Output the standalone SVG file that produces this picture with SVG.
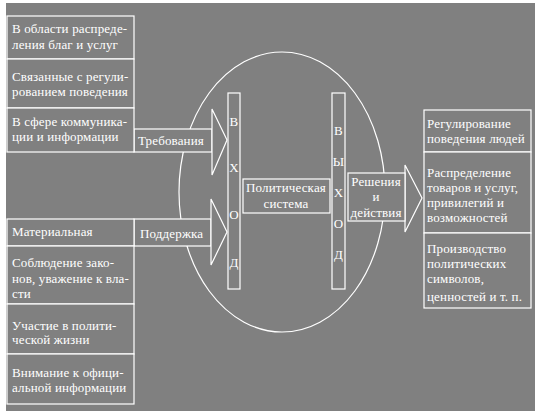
<svg xmlns="http://www.w3.org/2000/svg" width="539" height="417" viewBox="0 0 539 417">
<style>
.b{fill:#808080;stroke:#fff;stroke-width:1.2}
.l{fill:none;stroke:#fff;stroke-width:1.2}
text{font-family:"Liberation Serif","Times New Roman",serif;font-size:13px;letter-spacing:0.15px;fill:#fff}
.c{text-anchor:middle}
</style>
<rect x="0" y="0" width="539" height="417" fill="#fff"/>
<rect x="6" y="3" width="529" height="408" fill="#808080"/>
<ellipse cx="282" cy="192" rx="103" ry="140" class="l"/>
<g id="connectors">
<g id="arrow-trebovaniya">
<rect x="134" y="129" width="78" height="23" class="b"/>
<polygon points="212,109 227,140 212,175" class="b"/>
<text x="138" y="145">Требования</text>
</g>
<g id="arrow-podderzhka">
<rect x="134" y="219" width="77" height="27" class="b"/>
<polygon points="211,199 227,232 211,265" class="b"/>
<text x="140" y="238">Поддержка</text>
</g>
<g id="arrow-resheniya">
<polygon points="405,165 422,198 405,232" class="b"/>
<rect x="348" y="173" width="57" height="48" class="b"/>
<text class="c" x="376" y="186">Решения</text>
<text class="c" x="376" y="201">и</text>
<text class="c" x="376" y="217">действия</text>
</g>
</g>
<g id="demands">
<rect x="7" y="16" width="127" height="43" class="b"/>
<text x="12" y="33">В области распреде-</text>
<text x="12" y="49">ления благ и услуг</text>
<rect x="7" y="59" width="127" height="49" class="b"/>
<text x="12" y="81">Связанные с регули-</text>
<text x="12" y="96">рованием поведения</text>
<rect x="7" y="108" width="127" height="44" class="b"/>
<text x="12" y="126">В сфере коммуника-</text>
<text x="12" y="141">ции и информации</text>
</g>
<g id="support">
<rect x="7" y="219" width="127" height="27" class="b"/>
<text x="12" y="236">Материальная</text>
<rect x="7" y="246" width="127" height="58" class="b"/>
<text x="12" y="267">Соблюдение зако-</text>
<text x="12" y="283">нов, уважение к вла-</text>
<text x="12" y="298">сти</text>
<rect x="7" y="304" width="127" height="50" class="b"/>
<text x="12" y="330">Участие в полити-</text>
<text x="12" y="344">ческой жизни</text>
<rect x="7" y="354" width="127" height="50" class="b"/>
<text x="12" y="377">Внимание к офици-</text>
<text x="12" y="392">альной информации</text>
</g>
<g id="vhod">
<rect x="228" y="93" width="12" height="196" class="b"/>
<text class="c" x="234" y="126">В</text>
<text class="c" x="234" y="172">Х</text>
<text class="c" x="234" y="219">О</text>
<text class="c" x="234" y="267">Д</text>
</g>
<g id="system">
<rect x="243" y="179" width="87" height="34" class="b"/>
<text class="c" x="286" y="192">Политическая</text>
<text class="c" x="286" y="208">система</text>
</g>
<g id="vyhod">
<rect x="332" y="93" width="13" height="196" class="b"/>
<text class="c" x="338.5" y="135">В</text>
<text class="c" x="338.5" y="166">Ы</text>
<text class="c" x="338.5" y="197">Х</text>
<text class="c" x="338.5" y="228">О</text>
<text class="c" x="338.5" y="259">Д</text>
</g>
<g id="outputs">
<rect x="424" y="110" width="107" height="42" class="b"/>
<text x="427" y="128">Регулирование</text>
<text x="427" y="143">поведения людей</text>
<rect x="424" y="152" width="107" height="81" class="b"/>
<text x="427" y="177">Распределение</text>
<text x="427" y="192">товаров и услуг,</text>
<text x="427" y="207">привилегий и</text>
<text x="427" y="222">возможностей</text>
<rect x="424" y="233" width="107" height="75" class="b"/>
<text x="427" y="253">Производство</text>
<text x="427" y="268">политических</text>
<text x="427" y="283">символов,</text>
<text x="427" y="301">ценностей и т. п.</text>
</g>
</svg>
